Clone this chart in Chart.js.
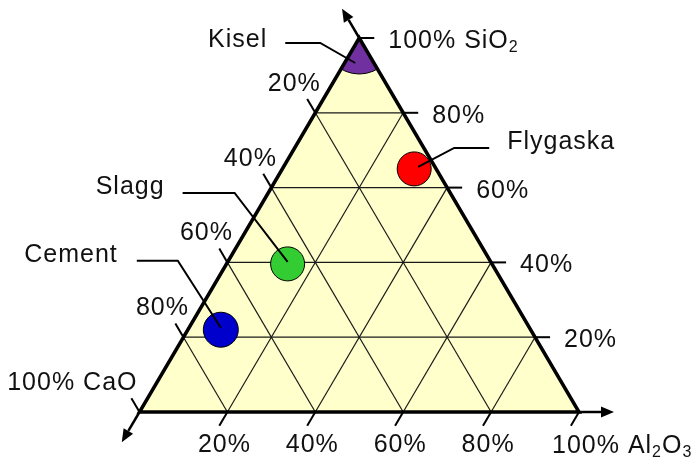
<!DOCTYPE html>
<html>
<head>
<meta charset="utf-8">
<script src="https://cdn.jsdelivr.net/npm/chart.js@4"></script>
<style>
  html, body { margin: 0; padding: 0; background: #fff; }
  #wrap { width: 693px; height: 457px; position: relative; }
</style>
</head>
<body>
<div id="wrap"><canvas id="ternary"></canvas></div>
<script>
// Sample compositions (weight %), CaO = 100 - SiO2 - Al2O3
const samples = ['Kisel', 'Flygaska', 'Slagg', 'Cement'];
const sio2 = [100, 65, 39.6, 22];
const al2o3 = [0, 30, 13.9, 7.5];
const cao = [0, 5, 46.5, 70.5];

// Grid lines / tick labels (%)
const gridTicks = [20, 40, 60, 80];
const tickLabels = ['20%', '40%', '60%', '80%'];

// Vertex labels (sub = subscript)
const labelSiO2 = [['100% SiO'], ['2', 'sub']];
const labelCaO = [['100% CaO']];
const labelAl2O3 = [['100% Al'], ['2', 'sub'], ['O'], ['3', 'sub']];

// styles
const pointColors = ['#7030A0', '#FF0000', '#33CC33', '#0000CC'];
const pointSizes = [36, 17, 17, 17.5];
const FONT = '25px "Liberation Sans", Arial, sans-serif';
const SUBFONT = '16px "Liberation Sans", Arial, sans-serif';

// leader lines + name placement, pixel offsets from the marker centre
const leaders = [
  { text: [-92, 8.5], align: 'right', line: [[-74, 5], [-39, 5], [-4, 25]] },
  { text: [93, -20], align: 'left', line: [[75, -21], [40, -21], [4, -2]] },
  { text: [-123, -70], align: 'right', line: [[-105, -71], [-53, -71], [0, -2]] },
  { text: [-103, -68], align: 'right', line: [[-84, -69], [-43, -69], [0, -2]] }
];

// ternary -> cartesian (x along base, y = SiO2 height)
function toXY(si, al) {
  return { x: (al + si / 2) / 100, y: si / 100 };
}

function pix(chart, si, al) {
  const p = toXY(si, al);
  return [chart.scales.x.getPixelForValue(p.x), chart.scales.y.getPixelForValue(p.y)];
}

function unit(a, b) {
  const dx = b[0] - a[0], dy = b[1] - a[1];
  const l = Math.hypot(dx, dy);
  return [dx / l, dy / l];
}

function line(ctx, a, b) {
  ctx.beginPath();
  ctx.moveTo(a[0], a[1]);
  ctx.lineTo(b[0], b[1]);
  ctx.stroke();
}

function arrow(ctx, from, dir, len) {
  const tip = [from[0] + dir[0] * len, from[1] + dir[1] * len];
  const hl = 13, hw = 5.5;
  const base = [tip[0] - dir[0] * hl, tip[1] - dir[1] * hl];
  ctx.lineWidth = 2.5;
  line(ctx, from, base);
  ctx.beginPath();
  ctx.moveTo(tip[0], tip[1]);
  ctx.lineTo(base[0] - dir[1] * hw, base[1] + dir[0] * hw);
  ctx.lineTo(base[0] + dir[1] * hw, base[1] - dir[0] * hw);
  ctx.closePath();
  ctx.fill();
}

function setSpacing(ctx) {
  if ('letterSpacing' in ctx) ctx.letterSpacing = '1px';
}

function richText(ctx, parts, x, y, align) {
  let w = 0;
  parts.forEach(p => {
    ctx.font = p[1] === 'sub' ? SUBFONT : FONT;
    w += ctx.measureText(p[0]).width;
  });
  let cx = align === 'right' ? x - w : x;
  ctx.textAlign = 'left';
  parts.forEach(p => {
    ctx.font = p[1] === 'sub' ? SUBFONT : FONT;
    ctx.fillText(p[0], cx, p[1] === 'sub' ? y + 4 : y);
    cx += ctx.measureText(p[0]).width;
  });
}

function trianglePath(chart) {
  const ctx = chart.ctx;
  const top = pix(chart, 100, 0), left = pix(chart, 0, 0), right = pix(chart, 0, 100);
  ctx.beginPath();
  ctx.moveTo(top[0], top[1]);
  ctx.lineTo(left[0], left[1]);
  ctx.lineTo(right[0], right[1]);
  ctx.closePath();
}

const ternaryPlugin = {
  id: 'ternary',
  beforeDatasetsDraw(chart) {
    const ctx = chart.ctx;
    ctx.save();
    trianglePath(chart);
    ctx.fillStyle = '#FFFFCC';
    ctx.fill();
    ctx.strokeStyle = '#1a1a1a';
    ctx.lineWidth = 1.2;
    gridTicks.forEach(k => {
      line(ctx, pix(chart, k, 0), pix(chart, k, 100 - k));       // SiO2 = k
      line(ctx, pix(chart, 0, k), pix(chart, 100 - k, k));       // Al2O3 = k
      line(ctx, pix(chart, 0, 100 - k), pix(chart, 100 - k, 0)); // CaO = k
    });
    ctx.restore();
  },
  beforeDatasetDraw(chart, args) {
    if (args.index === 0) {
      chart.ctx.save();
      trianglePath(chart);
      chart.ctx.clip();
    }
  },
  afterDatasetDraw(chart, args) {
    if (args.index === 0) chart.ctx.restore();
  },
  afterDatasetsDraw(chart) {
    const ctx = chart.ctx;
    const top = pix(chart, 100, 0), left = pix(chart, 0, 0), right = pix(chart, 0, 100);
    const upLeft = unit(right, top);   // SiO2 axis direction
    const downLeft = unit(top, left);  // CaO axis direction
    ctx.save();
    ctx.strokeStyle = '#000';
    ctx.fillStyle = '#000';
    ctx.lineCap = 'butt';

    // ticks
    ctx.lineWidth = 2;
    const T = 16;
    gridTicks.concat([100]).forEach(k => {
      const r = pix(chart, k, 100 - k);
      line(ctx, r, [r[0] + 15, r[1]]);
      const l = pix(chart, 100 - k, 0);
      line(ctx, l, [l[0] + upLeft[0] * T, l[1] + upLeft[1] * T]);
      const b = pix(chart, 0, k);
      line(ctx, b, [b[0] + downLeft[0] * T, b[1] + downLeft[1] * T]);
    });

    // arrows
    arrow(ctx, top, upLeft, 34);
    arrow(ctx, left, downLeft, 35);
    arrow(ctx, right, [1, 0], 35);

    // triangle edges
    trianglePath(chart);
    ctx.lineWidth = 3.5;
    ctx.lineJoin = 'miter';
    ctx.stroke();

    // leader lines
    ctx.lineWidth = 2;
    samples.forEach((s, i) => {
      const c = pix(chart, sio2[i], al2o3[i]);
      const pts = leaders[i].line;
      ctx.beginPath();
      ctx.moveTo(c[0] + pts[0][0], c[1] + pts[0][1]);
      for (let j = 1; j < pts.length; j++) ctx.lineTo(c[0] + pts[j][0], c[1] + pts[j][1]);
      ctx.stroke();
    });

    // text
    ctx.fillStyle = '#111';
    ctx.textBaseline = 'alphabetic';
    ctx.font = FONT;
    setSpacing(ctx);
    gridTicks.forEach((k, i) => {
      const r = pix(chart, k, 100 - k);
      ctx.textAlign = 'left';
      ctx.fillText(tickLabels[i], r[0] + 29, r[1] + 10);
      const l = pix(chart, 100 - k, 0);
      ctx.textAlign = 'center';
      ctx.fillText(tickLabels[i], l[0] - 21, l[1] - 22);
      const b = pix(chart, 0, k);
      ctx.fillText(tickLabels[i], b[0] - 3, b[1] + 40);
    });
    richText(ctx, labelSiO2, top[0] + 29, top[1] + 10, 'left');
    richText(ctx, labelCaO, left[0] - 2, left[1] - 22, 'right');
    richText(ctx, labelAl2O3, right[0] - 27, right[1] + 41, 'left');

    ctx.font = FONT;
    samples.forEach((s, i) => {
      const c = pix(chart, sio2[i], al2o3[i]);
      ctx.textAlign = leaders[i].align;
      ctx.fillText(s, c[0] + leaders[i].text[0], c[1] + leaders[i].text[1]);
    });
    ctx.restore();
  }
};

// base of the triangle spans 139.5..579 px, height 374 px (apex at y = 38)
const W = 693, H = 457, X0 = 139.5, BASE = 439.5, Y0 = 412, HT = 374;

new Chart(document.getElementById('ternary'), {
  type: 'scatter',
  data: {
    datasets: samples.map((s, i) => ({
      label: s,
      data: [toXY(sio2[i], al2o3[i])],
      pointRadius: pointSizes[i],
      pointHoverRadius: pointSizes[i],
      backgroundColor: pointColors[i],
      borderColor: '#000',
      borderWidth: 1,
      clip: false
    }))
  },
  options: {
    responsive: true,
    maintainAspectRatio: false,
    animation: false,
    events: [],
    layout: { padding: 0, autoPadding: false },
    plugins: {
      legend: { display: false },
      tooltip: { enabled: false }
    },
    scales: {
      x: { type: 'linear', display: false, min: -X0 / BASE, max: (W - X0) / BASE },
      y: { type: 'linear', display: false, min: -(H - Y0) / HT, max: Y0 / HT }
    }
  },
  plugins: [ternaryPlugin]
});
</script>
</body>
</html>
